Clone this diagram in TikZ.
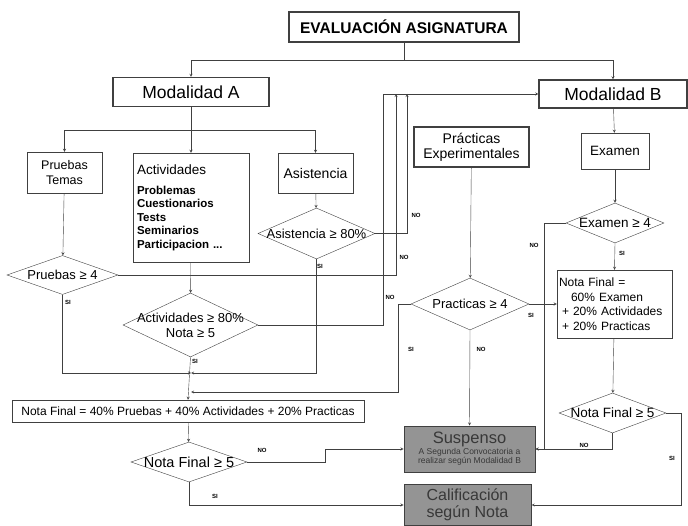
\documentclass[tikz,border=0pt]{standalone}
\usepackage{fontspec}
\setmainfont{Liberation Sans}
\usetikzlibrary{shapes.geometric}
\newcommand{\cero}[1]{\makebox[0pt]{#1}}
\tikzset{box/.style = {draw, align=center, inner sep=2pt},
  gruesa/.style = {box, line width=1.2pt},
  decision/.style = {diamond, draw, aspect=3, inner sep=0pt, align=center, font=\fontsize{13}{15}\selectfont},
  oscura/.style = {box, fill=black!42, text=black!78, line width=1pt},
  etq/.style = {font=\fontsize{6}{7}\selectfont\bfseries, inner sep=0pt}}

\begin{document}
\begin{tikzpicture}[x=1pt, y=-1pt, >=stealth, draw=black!75, thin]
      \useasboundingbox (0,0) rectangle (688,526);
      \node[gruesa, minimum width=230pt, minimum height=30pt, font=\fontsize{15.5}{17}\selectfont\bfseries] (titulo) at (404,27) {EVALUACIÓN ASIGNATURA};
      \node[gruesa, minimum width=156pt, minimum height=29pt, font=\fontsize{17.5}{19}\selectfont] (modA) at (191,92) {Modalidad A};
      \node[gruesa, minimum width=148pt, minimum height=28pt, font=\fontsize{17.5}{19}\selectfont] (modB) at (613,94) {Modalidad B};
      \node[box, minimum width=75pt, minimum height=41pt, font=\fontsize{12.5}{14.5}\selectfont] (pruebas) at (64.5,172.5) {Pruebas\\Temas};
      \node[box, minimum width=116pt, minimum height=109pt, text width=108pt, align=left, inner sep=3pt, font=\fontsize{11.5}{13.4}\selectfont\bfseries] (activ) at (191,207.5)
        {{\mdseries\fontsize{13.5}{13.4}\selectfont Actividades}\\[7pt]
         Problemas\\Cuestionarios\\Tests\\Seminarios\\Participacion ...};
      \node[box, minimum width=75pt, minimum height=40pt, font=\fontsize{14}{16}\selectfont] (asist) at (315.5,173) {Asistencia};
      \node[gruesa, minimum width=115pt, minimum height=40pt, font=\fontsize{14}{15}\selectfont, inner sep=1pt] (prac) at (471.5,147) {Prácticas\\Experimentales};
      \node[box, minimum width=68pt, minimum height=36pt, font=\fontsize{13.5}{15}\selectfont] (exam) at (615,151) {Examen};
      \node[decision, minimum width=111pt, minimum height=39pt] (dPru) at (62.5,275) {\cero{Pruebas ≥ 4}};
      \node[decision, minimum width=135pt, minimum height=64pt] (dAct) at (190.5,325) {\cero{Actividades ≥ 80\%}\\\cero{Nota ≥ 5}};
      \node[decision, minimum width=117pt, minimum height=51pt] (dAsi) at (316.5,233.5) {\cero{Asistencia ≥ 80\%}};
      \node[decision, minimum width=118pt, minimum height=52pt] (dPrac) at (470,304) {\cero{Practicas ≥ 4}};
      \node[decision, minimum width=98pt, minimum height=40pt, font=\fontsize{13.5}{15}\selectfont] (dExa) at (615,223) {\cero{Examen ≥ 4}};
      \node[box, minimum width=115pt, minimum height=68pt, text width=111pt, align=left, inner sep=2pt, font=\fontsize{12}{14.5}\selectfont] (finB) at (614.5,304)
        {Nota Final =\\\hspace*{12pt}60\% Examen\\\hspace*{3pt}+ 20\% Actividades\\\hspace*{3pt}+ 20\% Practicas};
      \node[decision, minimum width=107pt, minimum height=40pt, font=\fontsize{13.5}{15}\selectfont] (dFinB) at (612.5,413) {\cero{Nota Final ≥ 5}};
      \node[box, minimum width=352pt, minimum height=22pt, font=\fontsize{12}{14}\selectfont] (finA) at (188,411) {Nota Final = 40\% Pruebas + 40\% Actividades + 20\% Practicas};
      \node[decision, minimum width=116pt, minimum height=40pt, font=\fontsize{14.5}{16}\selectfont] (dFin) at (189,462) {\cero{Nota Final ≥ 5}};
      \node[oscura, minimum width=131pt, minimum height=46pt, inner sep=1pt, font=\fontsize{8.5}{9.5}\selectfont] (susp) at (469.5,449)
        {{\fontsize{16.5}{18}\selectfont Suspenso}\\A Segunda Convocatoria a\\realizar según Modalidad B};
      \node[oscura, minimum width=127pt, minimum height=41pt, inner sep=1pt, font=\fontsize{16}{17}\selectfont] (calif) at (467.5,505) {Calificación\\según Nota};
      \coordinate (repA) at (404,60);
      \coordinate (repB) at (191,130);
      \coordinate (subeAc) at (383,94);
      \coordinate (subePr) at (396,94);
      \coordinate (subeAs) at (407,94);
      \coordinate (junta1) at (191,373);
      \coordinate (junta2) at (191,392);
      \draw (titulo) -- (repA);
      \draw[->] (repA) -| (modA.north);
      \draw[->] (repA) -| (modB.north);
      \draw (modA) -- (repB);
      \draw[->] (repB) -| (pruebas.north);
      \draw[->] (repB) -- (activ.north);
      \draw[->] (repB) -| (asist.north);
      \draw[->] (pruebas) -- (dPru);
      \draw[->] (activ) -- (dAct);
      \draw[->] (asist) -- (dAsi);
      \draw[->] (modB) -- (exam);
      \draw[->] (exam) -- (dExa);
      \draw[->] (prac) -- (dPrac);
      \draw[->] (dAct.east) -| (subeAc) -- (modB.west);
      \draw[->] (dPru.east) -| (subePr);
      \draw[->] (dAsi.east) -| (subeAs);
      \draw[->] (dPru.south) |- (junta1);
      \draw[->] (dAsi.south) |- (junta1);
      \draw[->] (dPrac.west) -- ++(-13,0) |- (junta2);
      \draw[->] (dAct.south) -- (finA.north);
      \draw[->] (finA) -- (dFin);
      \draw[->] (dFin.east) -- ++(78,0) |- (susp.west);
      \draw[->] (dFin.south) |- (calif.west);
      \draw[->] (dPrac.south) -- (susp.north);
      \draw[->] (dPrac.east) -- (finB.west);
      \draw[->] (dExa.west) -- ++(-22,0) |- (susp.east);
      \draw[->] (dExa.south) -- (finB.north);
      \draw[->] (finB) -- (dFinB);
      \draw[->] (dFinB.south) |- (susp.east);
      \draw[->] (dFinB.east) -- ++(15,0) |- (calif.east);
      \node[etq] (l1) at (68,302) {SI};
      \node[etq] (l2) at (195,361) {SI};
      \node[etq] (l3) at (320,266) {SI};
      \node[etq] (l4) at (416,215) {NO};
      \node[etq] (l5) at (404,257) {NO};
      \node[etq] (l6) at (390,297) {NO};
      \node[etq] (l7) at (411,349) {SI};
      \node[etq] (l8) at (481,349) {NO};
      \node[etq] (l9) at (531,315) {SI};
      \node[etq] (l10) at (534,245) {NO};
      \node[etq] (l11) at (622,253) {SI};
      \node[etq] (l12) at (584,445) {NO};
      \node[etq] (l13) at (672,458) {SI};
      \node[etq] (l14) at (262,450) {NO};
      \node[etq] (l15) at (215,496) {SI};
\end{tikzpicture}
\end{document}
